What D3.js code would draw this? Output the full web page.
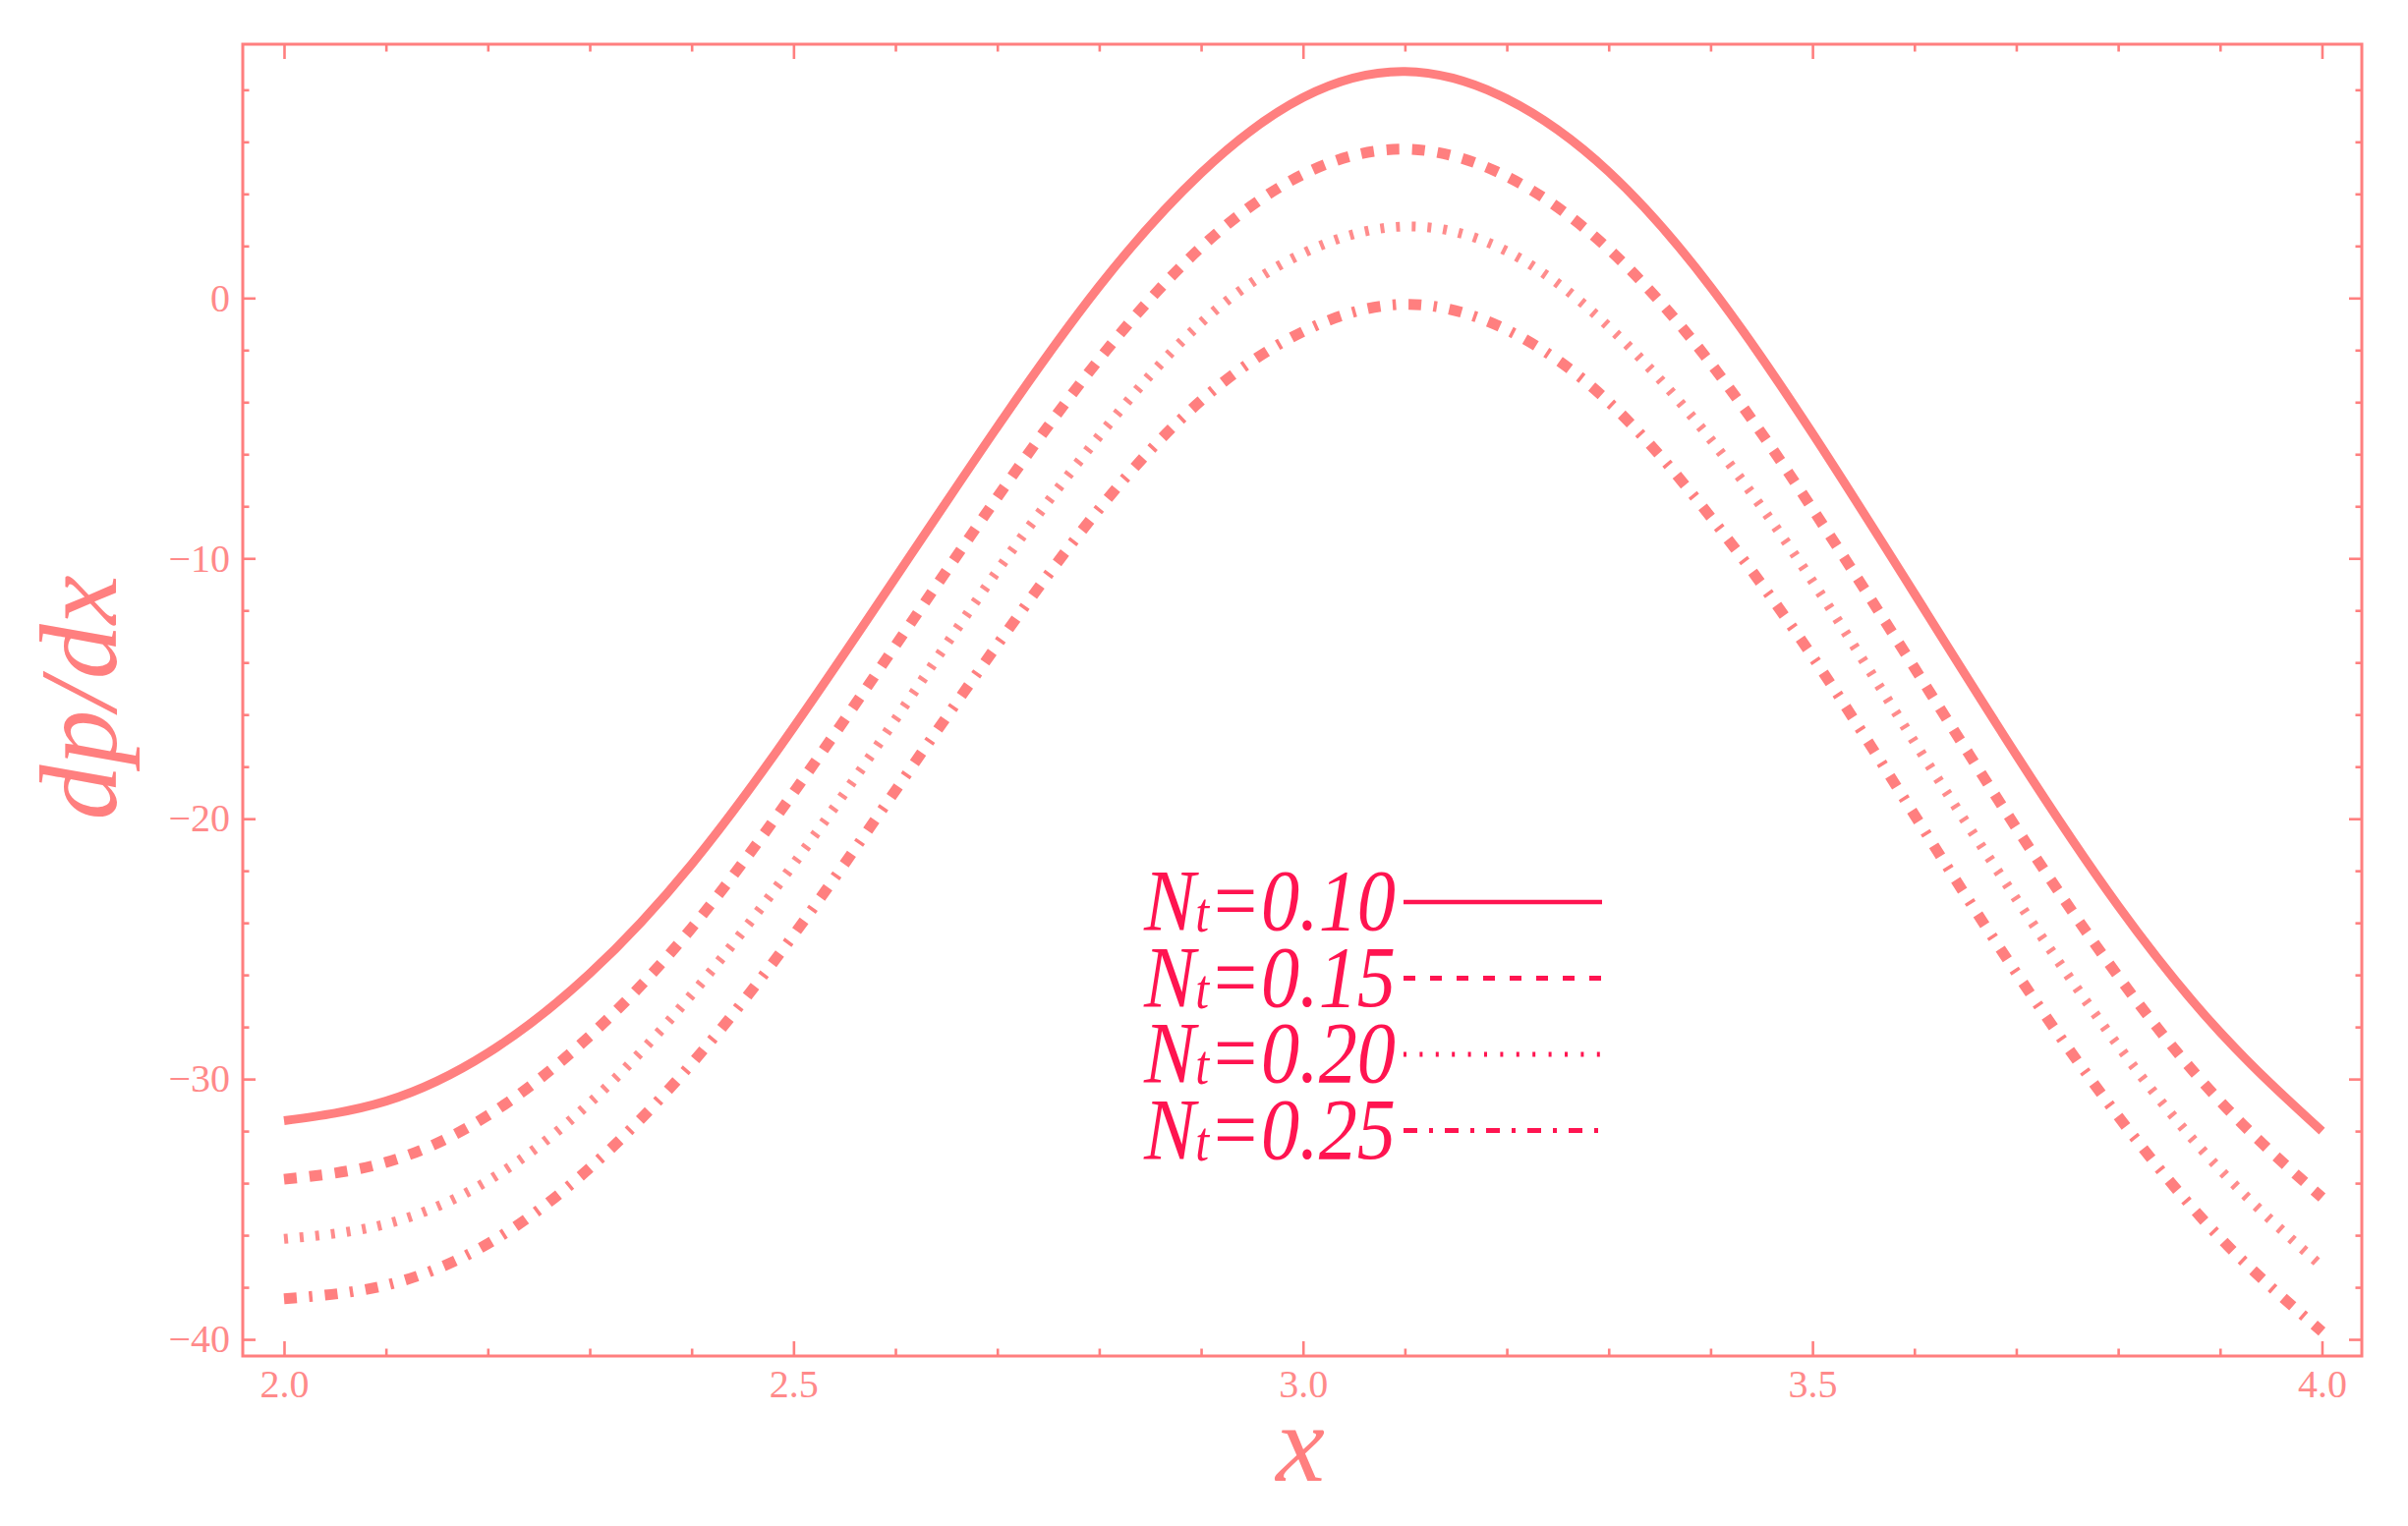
<!DOCTYPE html>
<html>
<head>
<meta charset="utf-8">
<script src="https://cdn.jsdelivr.net/npm/d3@7"></script>
<style>
  body { margin: 0; background: #fff; }
  svg { display: block; }
</style>
</head>
<body>
<div id="chart"><svg></svg></div>
<script>
// values, x step 0.1
const xValues = [2.0, 2.1, 2.2, 2.3, 2.4, 2.5, 2.6, 2.7, 2.8, 2.9, 3.0,
                 3.1, 3.2, 3.3, 3.4, 3.5, 3.6, 3.7, 3.8, 3.9, 4.0];
const nt010 = [-31.6, -30.85, -29.0, -25.95, -21.75, -16.5, -10.75, -4.95, 0.45, 4.8, 7.7,
               8.7, 7.65, 4.85, 0.43, -5.2, -11.35, -17.55, -23.35, -28.2, -32.0];
const nt015 = [-33.85, -33.2, -31.4, -28.35, -24.2, -19.0, -13.35, -7.65, -2.35, 1.95, 4.75,
               5.72, 4.67, 1.88, -2.5, -8.1, -14.2, -20.35, -26.05, -30.85, -34.55];
const nt020 = [-36.14, -35.57, -33.91, -30.92, -26.76, -21.75, -16.19, -10.48, -5.3, -0.95, 1.72,
               2.75, 1.8, -1.1, -5.43, -10.88, -17.05, -23.08, -28.72, -33.48, -37.2];
const nt025 = [-38.44, -37.92, -36.33, -33.42, -29.41, -24.47, -18.92, -13.32, -8.1, -3.94, -1.29,
               -0.24, -1.22, -3.99, -8.41, -13.77, -19.85, -25.92, -31.43, -36.1, -39.7];

const seriesNames = ["0.10", "0.15", "0.20", "0.25"];
const xTickLabels = [2.0, 2.5, 3.0, 3.5, 4.0];
const yTickLabels = [-40, -30, -20, -10, 0];

const width = 2450,
      height = 1553,
      lineColor = "#ff7f7f",
      legendColor = "#ff1450",
      serif = "'Liberation Serif', 'Times New Roman', serif";

const svg = d3.select("#chart svg")
  .attr("width", width)
  .attr("height", height)
  .style("font-family", serif);

svg.append("rect").attr("width", width).attr("height", height).attr("fill", "#fff");

// plot frame
const frameLeft = 247, frameRight = 2403, frameTop = 45, frameBottom = 1380;

const x = d3.scaleLinear().domain([1.9595, 4.0391]).range([frameLeft, frameRight]);
const y = d3.scaleLinear().domain([-40.64, 9.75]).range([frameBottom, frameTop]);

const minorX = d3.range(2.0, 4.001, 0.1).filter(v => Math.abs(v * 2 - Math.round(v * 2)) > 1e-6);
const minorY = d3.range(-40, 9, 2).filter(v => v % 10 !== 0);

function styleAxis(g) {
  g.attr("font-family", serif).attr("font-size", 40);
  g.select(".domain").remove();
  g.selectAll("line").attr("stroke", lineColor).attr("stroke-width", 2.6);
  g.selectAll("text").attr("fill", "#ff8a8a");
}

// bottom + top (major, then minor)
svg.append("g").attr("transform", `translate(0,${frameBottom})`)
  .call(d3.axisBottom(x).tickValues(xTickLabels).tickFormat(d3.format(".1f"))
    .tickSizeInner(-15).tickSizeOuter(0).tickPadding(14))
  .call(styleAxis);
svg.append("g").attr("transform", `translate(0,${frameBottom})`)
  .call(d3.axisBottom(x).tickValues(minorX).tickFormat("").tickSizeInner(-7.5).tickSizeOuter(0))
  .call(styleAxis);
svg.append("g").attr("transform", `translate(0,${frameTop})`)
  .call(d3.axisTop(x).tickValues(xTickLabels).tickFormat("").tickSizeInner(-15).tickSizeOuter(0))
  .call(styleAxis);
svg.append("g").attr("transform", `translate(0,${frameTop})`)
  .call(d3.axisTop(x).tickValues(minorX).tickFormat("").tickSizeInner(-7.5).tickSizeOuter(0))
  .call(styleAxis);

// left + right
svg.append("g").attr("transform", `translate(${frameLeft},0)`)
  .call(d3.axisLeft(y).tickValues(yTickLabels).tickFormat(d3.format("d"))
    .tickSizeInner(-13).tickSizeOuter(0).tickPadding(13))
  .call(styleAxis);
svg.append("g").attr("transform", `translate(${frameLeft},0)`)
  .call(d3.axisLeft(y).tickValues(minorY).tickFormat("").tickSizeInner(-6.5).tickSizeOuter(0))
  .call(styleAxis);
svg.append("g").attr("transform", `translate(${frameRight},0)`)
  .call(d3.axisRight(y).tickValues(yTickLabels).tickFormat("").tickSizeInner(-13).tickSizeOuter(0))
  .call(styleAxis);
svg.append("g").attr("transform", `translate(${frameRight},0)`)
  .call(d3.axisRight(y).tickValues(minorY).tickFormat("").tickSizeInner(-6.5).tickSizeOuter(0))
  .call(styleAxis);

svg.append("rect")
  .attr("x", frameLeft).attr("y", frameTop)
  .attr("width", frameRight - frameLeft).attr("height", frameBottom - frameTop)
  .attr("fill", "none")
  .attr("stroke", lineColor)
  .attr("stroke-width", 3);

// curves
const series = [
  { name: seriesNames[0], values: nt010, width: 9, dash: null, opacity: 1 },
  { name: seriesNames[1], values: nt015, width: 11, dash: "13,13", opacity: 1 },
  { name: seriesNames[2], values: nt020, width: 10, dash: "4,12", opacity: 0.9 },
  { name: seriesNames[3], values: nt025, width: 11, dash: "13,12.5,3.5,12.7", opacity: 1 }
];

const line = d3.line()
  .x((d, i) => x(xValues[i]))
  .y(d => y(d))
  .curve(d3.curveNatural);

svg.append("g").selectAll("path")
  .data(series)
  .enter()
  .append("path")
  .attr("d", d => line(d.values))
  .attr("fill", "none")
  .attr("stroke", lineColor)
  .attr("stroke-width", d => d.width)
  .attr("stroke-opacity", d => d.opacity)
  .attr("stroke-dasharray", d => d.dash);

// axis labels
svg.append("text")
  .attr("x", 1323).attr("y", 1507)
  .attr("text-anchor", "middle")
  .attr("fill", lineColor)
  .style("font-size", "112px")
  .style("font-style", "italic")
  .text("x");

svg.append("text")
  .attr("transform", "translate(118,710) rotate(-90)")
  .attr("text-anchor", "middle")
  .attr("fill", lineColor)
  .style("font-size", "112px")
  .style("font-style", "italic")
  .text("dp/dx");

// legend
const legendDash = [null, "12,15", "3,13.4", "14,12,4,12"];
const legend = svg.append("g").selectAll("g")
  .data(series)
  .enter()
  .append("g")
  .attr("transform", (d, i) => `translate(0,${918 + i * 77.5})`);

const label = legend.append("text")
  .attr("x", 1420).attr("y", 28)
  .attr("text-anchor", "end")
  .attr("fill", legendColor)
  .attr("textLength", 256)
  .attr("lengthAdjust", "spacingAndGlyphs")
  .style("font-size", "88px")
  .style("font-style", "italic");
label.append("tspan").text("N");
label.append("tspan").style("font-size", "56px").attr("dy", 2).text("t");
label.append("tspan").attr("dy", -2).text(d => "=" + d.name);

legend.append("line")
  .attr("x1", 1428).attr("x2", 1630)
  .attr("y1", 0).attr("y2", 0)
  .attr("stroke", legendColor)
  .attr("stroke-width", (d, i) => i === 0 ? 4.5 : 5)
  .attr("stroke-dasharray", (d, i) => legendDash[i]);
</script>
</body>
</html>
